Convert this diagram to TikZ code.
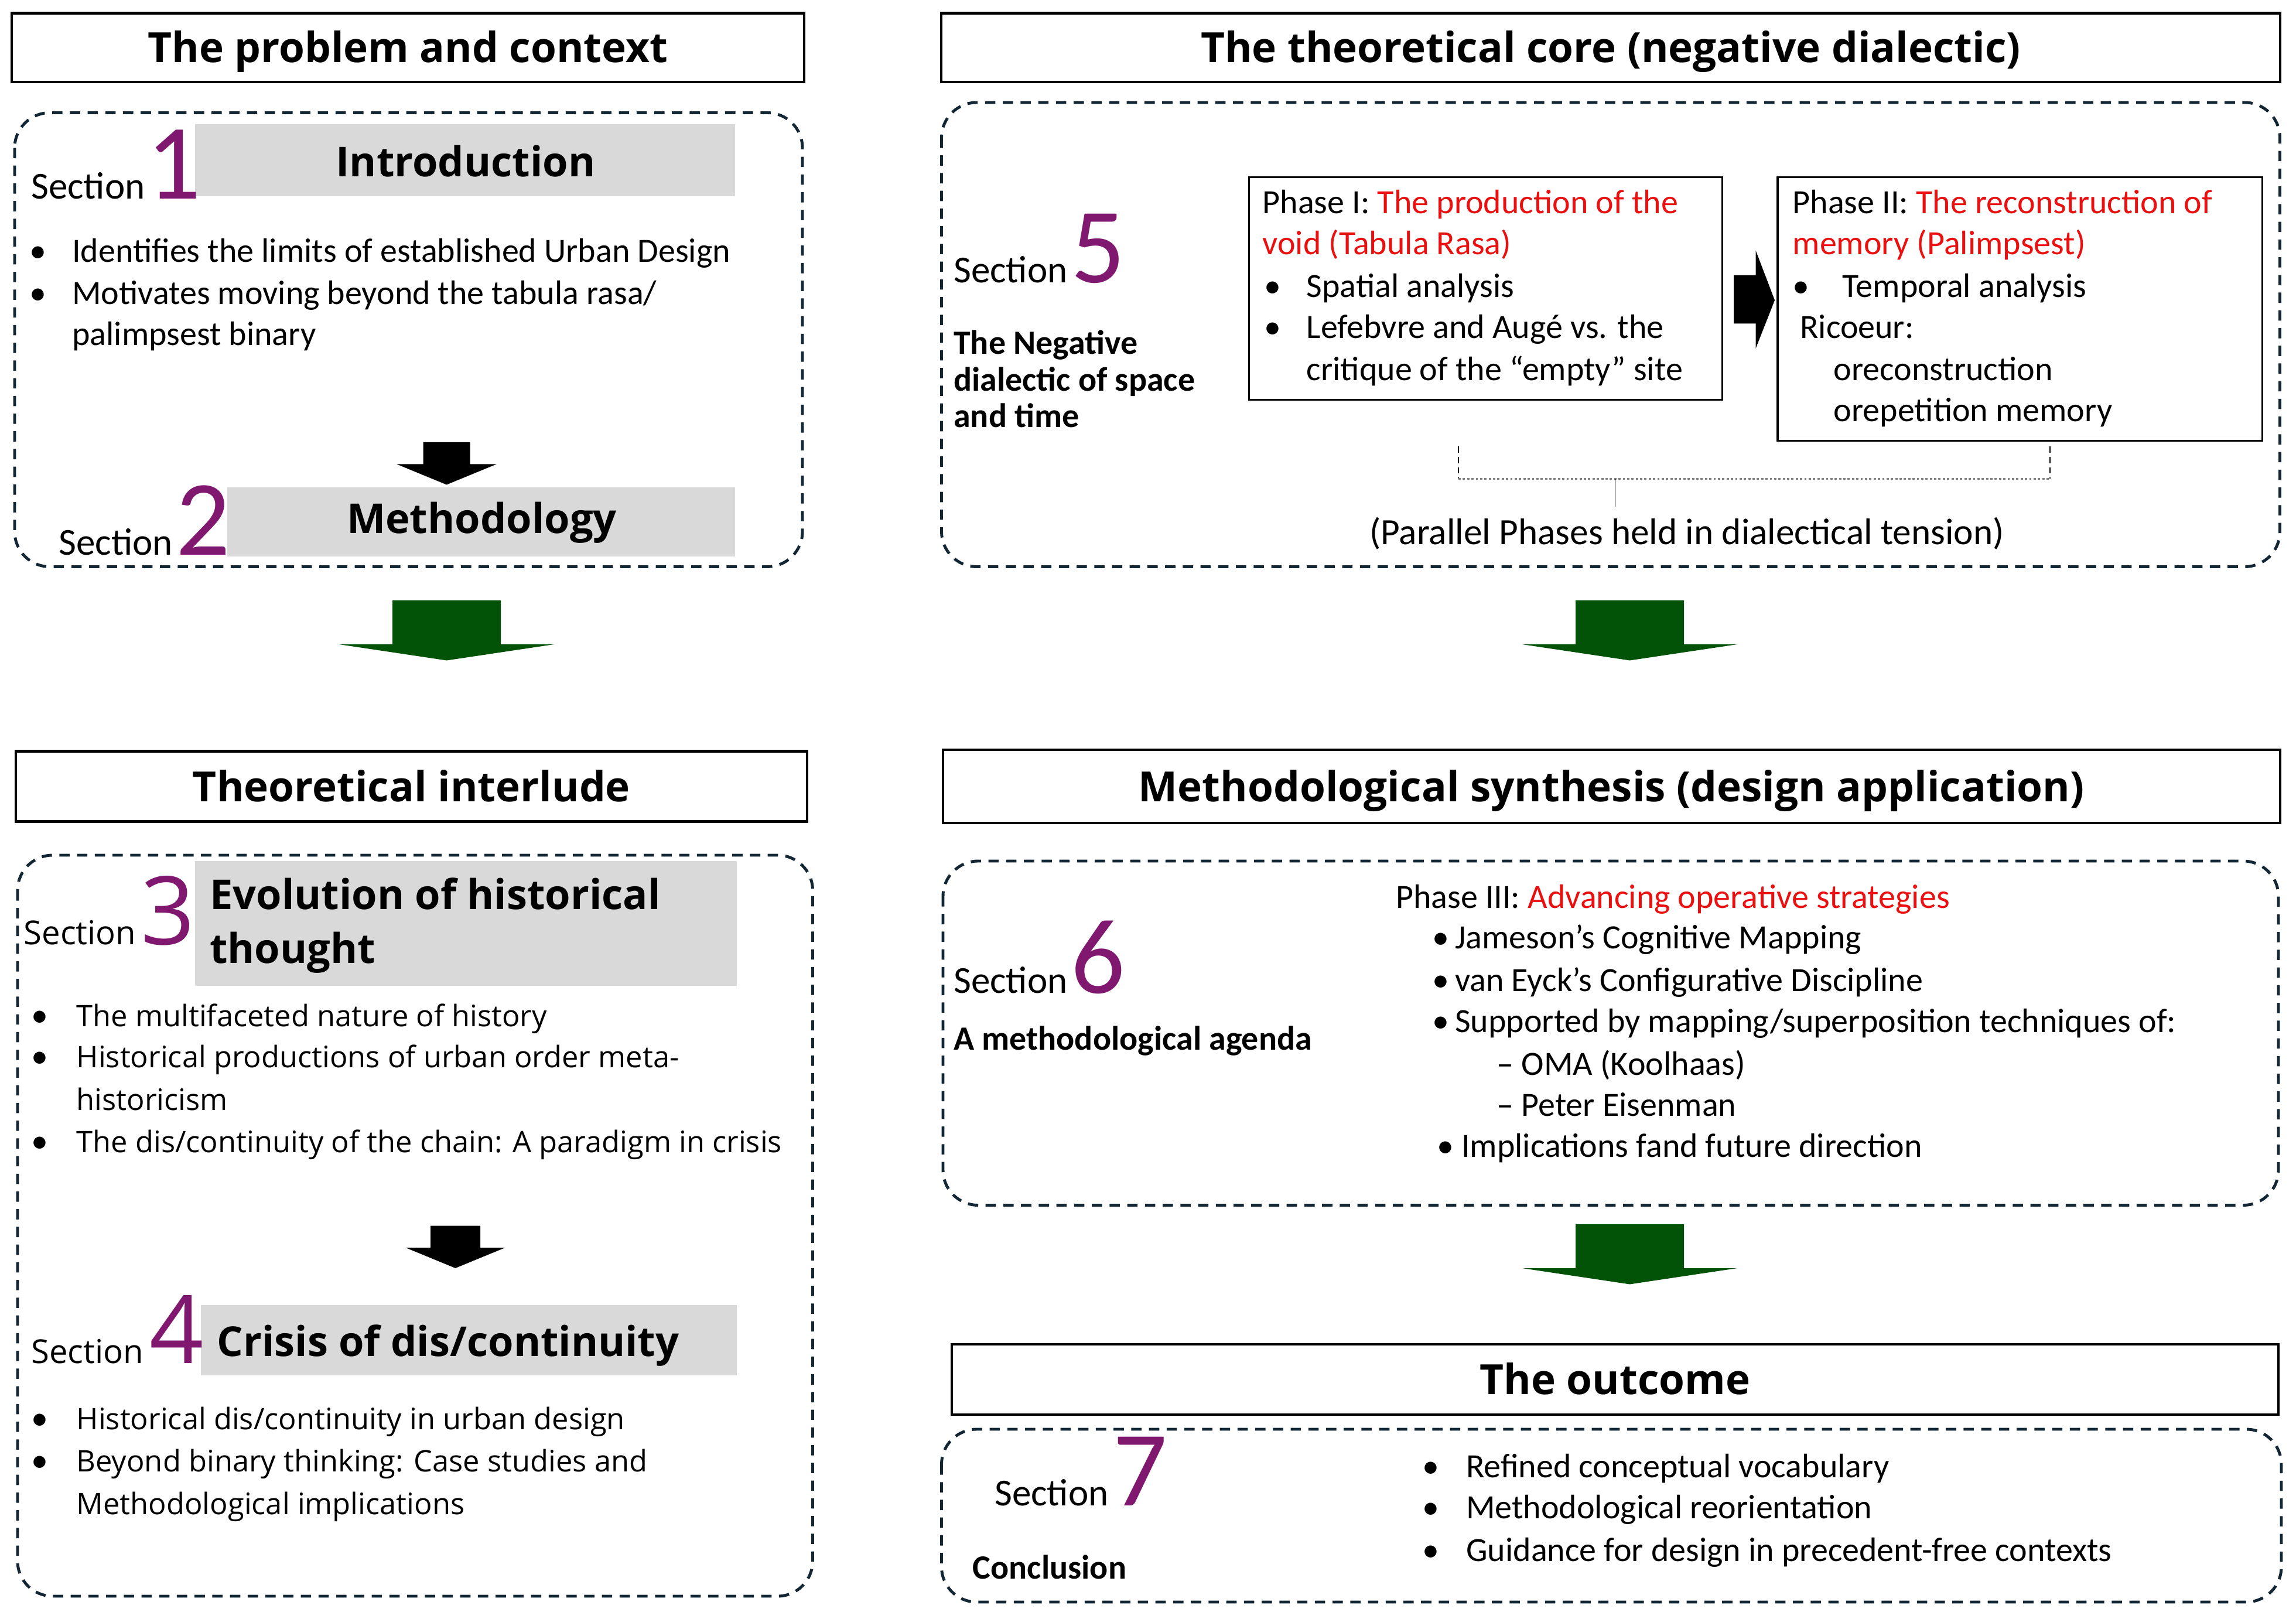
\documentclass[tikz,border=0pt]{standalone}
\usepackage{fontspec}
\setmainfont{Carlito}
\newfontfamily\osf{Open Sans}
\definecolor{navy}{RGB}{18,38,52}
\definecolor{greyfill}{RGB}{217,217,217}
\definecolor{purp}{RGB}{128,24,112}
\definecolor{dgreen}{RGB}{2,82,8}
\definecolor{redt}{RGB}{235,16,16}
\tikzset{
  hdr/.style={draw=black, line width=1.2pt, fill=white, inner sep=0pt,
    text height=14.6pt, text depth=0pt,
    font=\osf\bfseries\fontsize{20.2}{24}\selectfont},
  dbox/.style={draw=navy, line width=1.4pt, dash pattern=on 5pt off 3.6pt, rounded corners=0.6cm},
  phbox/.style={draw=black, line width=0.9pt, inner sep=0pt},
  body/.style={inner sep=0pt, anchor=base west, font=\fontsize{16.5}{20}\selectfont},
  bodyb/.style={inner sep=0pt, anchor=base west, font=\bfseries\fontsize{16.5}{20}\selectfont},
  bodyos/.style={inner sep=0pt, anchor=base west, font=\osf\fontsize{14.4}{18}\selectfont},
  gtext/.style={inner sep=0pt, font=\osf\bfseries\fontsize{20}{24}\selectfont},
  secw/.style={inner sep=0pt, anchor=base west, font=\fontsize{18.5}{22}\selectfont},
  secwos/.style={inner sep=0pt, anchor=base west, font=\osf\fontsize{16}{20}\selectfont},
  secn/.style={inner sep=0pt, anchor=base west, text=purp, font=\fontsize{52}{52}\selectfont},
  secnos/.style={inner sep=0pt, anchor=base west, text=purp, font=\osf\fontsize{46}{46}\selectfont},
}
\newcommand\tl[5]{\node[#1] (#2) at (#3,#4) {#5};}
\newcommand\dnarrow[8]{% cx, ytop, ybase, ytip, shaft half, head half, colour, name
  \coordinate (#8) at (#1,#4);
  \fill[#7] (#1-#5,#2) -- (#1+#5,#2) -- (#1+#5,#3) -- (#1+#6,#3) -- (#8)
    -- (#1-#6,#3) -- (#1-#5,#3) -- cycle;}
\begin{document}
\begin{tikzpicture}[x=0.025cm,y=-0.025cm]
\useasboundingbox (0,0) rectangle (1568,1100.8);
\fill[white] (0,0) rectangle (1568,1100.8);

% ---------- headers ----------
\node[hdr, minimum width=13.525cm, minimum height=1.175cm] (h1) at (278.5,32.5) {The problem and context};
\node[hdr, minimum width=22.85cm, minimum height=1.175cm] (h2) at (1100,32.5) {The theoretical core (negative dialectic)};
\node[hdr, minimum width=13.5cm, minimum height=1.2cm] (h3) at (281,537) {Theoretical interlude};
\node[hdr, minimum width=22.825cm, minimum height=1.25cm] (h4) at (1100.5,537) {Methodological synthesis (design application)};
\node[hdr, minimum width=22.65cm, minimum height=1.2cm] (h5) at (1103,942) {The outcome};

% ---------- dashed frames ----------
\draw[dbox] (10,77) rectangle (548,387);
\draw[dbox] (643,70) rectangle (1557,387);
\draw[dbox] (12,584) rectangle (555,1090);
\draw[dbox] (644,588) rectangle (1556,823);
\draw[dbox] (643,976) rectangle (1558,1094);

% ---------- grey title bars ----------
\fill[greyfill] (133,85) rectangle (502,134);
\fill[greyfill] (155,333) rectangle (502,380);
\fill[greyfill] (133,588) rectangle (503,673);
\fill[greyfill] (137,891) rectangle (503,939);
\node[gtext] (g1) at (318,110) {Introduction};
\node[gtext] (g2) at (329,357) {Methodology};
\tl{gtext,anchor=base west}{g3a}{143}{621}{Evolution of historical}
\tl{gtext,anchor=base west}{g3b}{143}{658}{thought}
\tl{gtext,anchor=base west}{g4}{148}{926}{Crisis of dis/continuity}

% ---------- section labels ----------
\tl{secw}{s1w}{21}{136}{Section}   \tl{secn}{s1n}{100}{136}{1}
\tl{secw}{s2w}{40}{379}{Section}   \tl{secn}{s2n}{120}{379}{2}
\tl{secwos}{s3w}{16}{645}{Section} \tl{secnos}{s3n}{96}{645}{3}
\tl{secwos}{s4w}{21}{931}{Section} \tl{secnos}{s4n}{102}{931}{4}
\tl{secw}{s5w}{651}{193}{Section}  \tl{secn}{s5n}{731}{193}{5}
\tl{secw}{s6w}{651}{678}{Section}  \tl{secn}{s6n}{731}{678}{6}
\tl{secw}{s7w}{679}{1028}{Section} \tl{secn}{s7n}{760}{1028}{7}

% ---------- section 1 ----------
\tl{body}{b1a}{20}{179}{\textbullet} \tl{body}{t1a}{49}{179}{Identifies the limits of established Urban Design}
\tl{body}{b1b}{20}{208}{\textbullet} \tl{body}{t1b}{49}{208}{Motivates moving beyond the tabula rasa/}
\tl{body}{t1c}{49}{236}{palimpsest binary}

% ---------- section 3 ----------
\tl{body}{b3a}{21}{701}{\textbullet} \tl{bodyos}{t3a}{52}{701}{The multifaceted nature of history}
\tl{body}{b3b}{21}{729}{\textbullet} \tl{bodyos}{t3b}{52}{729}{Historical productions of urban order meta-}
\tl{bodyos}{t3c}{52}{758}{historicism}
\tl{body}{b3d}{21}{787}{\textbullet} \tl{bodyos}{t3d}{52}{787}{The dis/continuity of the chain: A paradigm in crisis}

% ---------- section 4 ----------
\tl{body}{b4a}{21}{976}{\textbullet} \tl{bodyos}{t4a}{52}{976}{Historical dis/continuity in urban design}
\tl{body}{b4b}{21}{1005}{\textbullet} \tl{bodyos}{t4b}{52}{1005}{Beyond binary thinking: Case studies and}
\tl{bodyos}{t4c}{52}{1034}{Methodological implications}

% ---------- section 5 ----------
\tl{bodyb}{n5a}{651}{242}{The Negative}
\tl{bodyb}{n5b}{651}{267}{dialectic of space}
\tl{bodyb}{n5c}{651}{292}{and time}

\node[phbox, minimum width=8.075cm, minimum height=3.8cm] (ph1) at (1014.5,197) {};
\node[phbox, minimum width=8.275cm, minimum height=4.5cm] (ph2) at (1379.5,211) {};

\tl{body}{p1a}{862}{146}{Phase I: \textcolor{redt}{The production of the}}
\tl{body}{p1b}{862}{174}{\textcolor{redt}{void (Tabula Rasa)}}
\tl{body}{p1cb}{863}{203}{\textbullet} \tl{body}{p1c}{892}{203}{Spatial analysis}
\tl{body}{p1db}{863}{231}{\textbullet} \tl{body}{p1d}{892}{231}{Lefebvre and Augé vs. the}
\tl{body}{p1e}{892}{260}{critique of the “empty” site}

\tl{body}{p2a}{1224}{146}{Phase II: \textcolor{redt}{The reconstruction of}}
\tl{body}{p2b}{1224}{174}{\textcolor{redt}{memory (Palimpsest)}}
\tl{body}{p2cb}{1224}{203}{\textbullet} \tl{body}{p2c}{1258}{203}{Temporal analysis}
\tl{body}{p2d}{1229}{231}{Ricoeur:}
\tl{body}{p2e}{1252}{260}{oreconstruction}
\tl{body}{p2f}{1252}{288}{orepetition memory}

% arrow between phases
\coordinate (rt) at (1212,205);
\fill[black] (1184,188) -- (1199,188) -- (1199,171) -- (rt) -- (1199,238) -- (1199,221) -- (1184,221) -- cycle;

% bracket
\coordinate (brl) at (996,305);
\coordinate (brr) at (1400,305);
\coordinate (brlb) at (996,327);
\coordinate (brrb) at (1400,327);
\coordinate (brm) at (1103,327);
\coordinate (brs) at (1103,346);
\tl{body,anchor=base,font=\fontsize{18}{22}\selectfont}{par}{1152}{372}{(Parallel Phases held in dialectical tension)}
\draw[black, line width=0.4pt, densely dashed] (brl) -- (brlb);
\draw[black, line width=0.4pt, densely dashed] (brr) -- (brrb);
\draw[gray, line width=1.1pt, densely dotted] (brlb) -- (brrb);
\draw[black, line width=0.5pt] (brm) -- (brs);

% ---------- section 6 ----------
\tl{bodyb}{a6}{651}{717}{A methodological agenda}
\tl{body}{p3}{953}{620}{Phase III: \textcolor{redt}{Advancing operative strategies}}
\tl{body}{q1}{978}{648}{\textbullet\,Jameson’s Cognitive Mapping}
\tl{body}{q2}{978}{677}{\textbullet\,van Eyck’s Configurative Discipline}
\tl{body}{q3}{978}{705}{\textbullet\,Supported by mapping/superposition techniques of:}
\tl{body}{q4}{1022}{734}{– OMA (Koolhaas)}
\tl{body}{q5}{1022}{762}{– Peter Eisenman}
\tl{body}{q6}{981}{790}{\textbullet{} Implications fand future direction}

% ---------- section 7 ----------
\tl{bodyb}{c7}{664}{1078}{Conclusion}
\tl{body}{r1b}{971}{1009}{\textbullet} \tl{body}{r1}{1001}{1009}{Refined conceptual vocabulary}
\tl{body}{r2b}{971}{1037}{\textbullet} \tl{body}{r2}{1001}{1037}{Methodological reorientation}
\tl{body}{r3b}{971}{1066}{\textbullet} \tl{body}{r3}{1001}{1066}{Guidance for design in precedent-free contexts}

% ---------- arrows ----------
\dnarrow{305}{302}{317}{331}{16}{34}{black}{ka1}
\dnarrow{311}{837}{852}{866}{17}{34}{black}{ka2}
\dnarrow{305}{410}{440}{451}{37}{73.5}{dgreen}{ga1}
\dnarrow{1113}{410}{440}{451}{37}{73.5}{dgreen}{ga2}
\dnarrow{1113}{836}{866}{877}{37}{73.5}{dgreen}{ga3}
\end{tikzpicture}
\end{document}
